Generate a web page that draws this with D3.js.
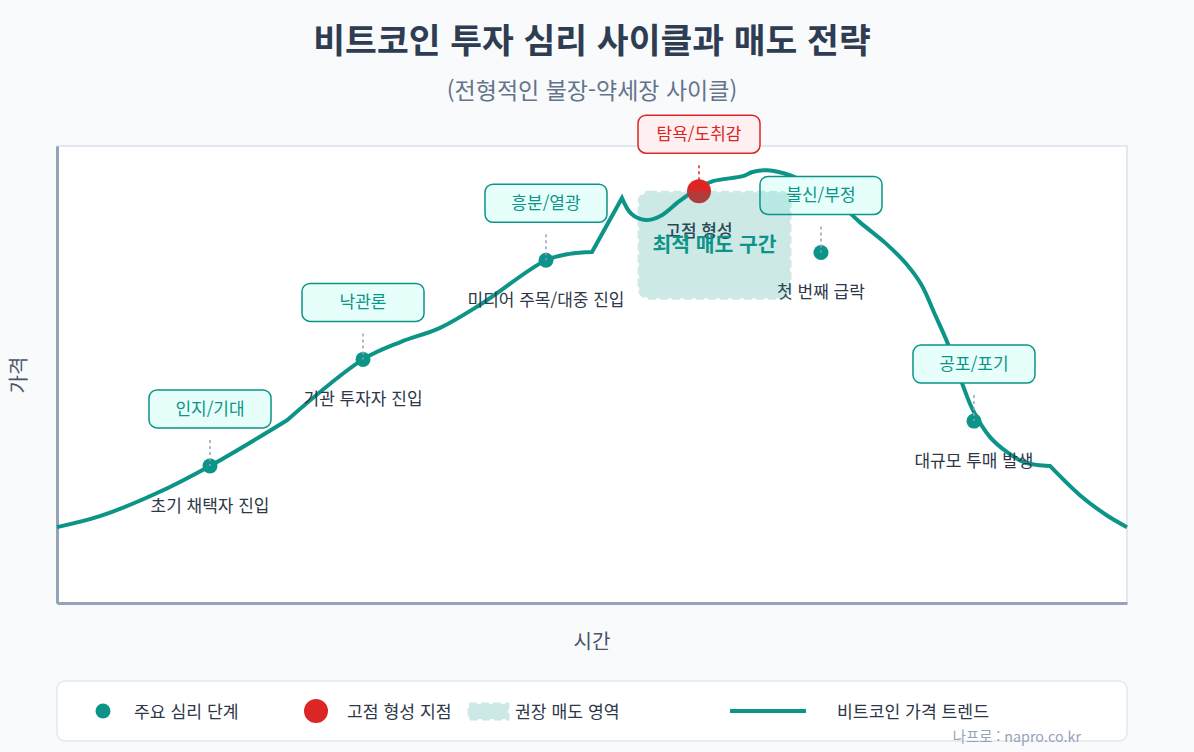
<!DOCTYPE html>
<html lang="ko">
<head>
<meta charset="utf-8">
<script src="https://cdn.jsdelivr.net/npm/d3@7"></script>
<style>
html, body { margin: 0; padding: 0; background: #f8fafc; }
svg { display: block; }
text { font-family: "Noto Sans CJK KR", "Noto Sans", sans-serif; }
</style>
</head>
<body>
<svg id="chart" width="1194" height="752"></svg>
<script>
// price trend, split where the line has a sharp corner
var trendSegments = [
  { time: [0, 4.0, 9.2, 14.3, 21.5], price: [16.6, 19.0, 23.9, 30.0, 40.0] },
  { time: [21.5, 28.6, 32.1, 35.8, 39.5, 45.7, 47.9, 50.0], price: [40.0, 53.3, 57.1, 60.2, 65.2, 75.0, 76.4, 76.8] },
  { time: [50.0, 52.8], price: [76.8, 88.6] },
  { time: [52.8, 53.7, 55.0, 56.4, 58.2, 60.0, 61.3, 64.1, 65.0, 66.4, 68.5, 70.4, 72.2, 75.0, 77.4, 79.3, 80.8, 82.0, 83.3, 84.6, 85.6, 87.2, 88.8, 90.3, 91.6, 92.8],
    price: [88.6, 85.1, 83.8, 84.7, 88.0, 90.8, 92.3, 93.4, 94.3, 94.7, 93.6, 91.5, 89.3, 83.4, 78.8, 74.4, 69.6, 63.4, 56.5, 48.0, 42.2, 36.3, 33.0, 30.9, 30.2, 30.0] },
  { time: [92.8, 95.6, 98.1, 100], price: [30.0, 23.6, 19.2, 16.6] }
];

// psychology stages
var stageNames = ["인지/기대", "낙관론", "흥분/열광", "탐욕/도취감", "불신/부정", "공포/포기"];
var stageNotes = ["초기 채택자 진입", "기관 투자자 진입", "미디어 주목/대중 진입", "고점 형성", "첫 번째 급락", "대규모 투매 발생"];
var stageTime = [14.3, 28.6, 45.7, 60.0, 71.4, 85.7];
var stagePrice = [30.0, 53.3, 75.0, 90.1, 76.7, 39.8];
var peakIndex = 3;

// recommended sell zone
var zoneTime = [54.4, 68.5];
var zonePrice = [66.7, 89.9];

var teal = "#0d9488";
var red = "#dc2626";
var dark = "#2d3748";

var svg = d3.select("#chart");
var x = d3.scaleLinear().domain([0, 100]).range([57, 1127]);
var y = d3.scaleLinear().domain([0, 100]).range([603, 146]);

// titles
svg.append("text").attr("x", 592).attr("y", 53).attr("text-anchor", "middle")
  .attr("font-size", 34.6).attr("font-weight", 700).attr("fill", "#2f3d52")
  .text("비트코인 투자 심리 사이클과 매도 전략");
svg.append("text").attr("x", 592).attr("y", 99).attr("text-anchor", "middle")
  .attr("font-size", 23).attr("fill", "#64748b")
  .text("(전형적인 불장-약세장 사이클)");

// plot area
svg.append("rect").attr("x", x(0)).attr("y", y(100)).attr("width", x(100) - x(0)).attr("height", y(0) - y(100))
  .attr("fill", "#fff").attr("stroke", "#e2e8f0").attr("stroke-width", 2);

var xAxis = svg.append("g").attr("transform", "translate(0," + y(0) + ")")
  .call(d3.axisBottom(x).tickValues([]).tickSize(0));
var yAxis = svg.append("g").attr("transform", "translate(" + x(0) + ",0)")
  .call(d3.axisLeft(y).tickValues([]).tickSize(0));
svg.selectAll(".domain").attr("stroke", "#94a3b8").attr("stroke-width", 3);

svg.append("text").attr("x", 592).attr("y", 649).attr("text-anchor", "middle")
  .attr("font-size", 20).attr("fill", "#4a5568").text("시간");
svg.append("text").attr("transform", "translate(26,375) rotate(-90)").attr("text-anchor", "middle")
  .attr("font-size", 20).attr("fill", "#4a5568").text("가격");

// trend line
var line = d3.line().x(function(d) { return x(d[0]); }).y(function(d) { return y(d[1]); })
  .curve(d3.curveCatmullRom.alpha(0.5));
var trendPath = trendSegments.map(function(seg, i) {
  var d = line(d3.zip(seg.time, seg.price));
  return i == 0 ? d : d.replace("M", "L");
}).join("");
svg.append("path").attr("d", trendPath).attr("fill", "none")
  .attr("stroke", teal).attr("stroke-width", 4).attr("stroke-linejoin", "miter");

// stages
stageNames.forEach(function(name, i) {
  var px = x(stageTime[i]);
  var py = y(stagePrice[i]);
  var isPeak = i == peakIndex;
  var color = isPeak ? red : teal;

  svg.append("circle").attr("cx", px).attr("cy", py).attr("r", isPeak ? 12 : 7.5).attr("fill", color);
  svg.append("line").attr("x1", px).attr("x2", px).attr("y1", py - 26).attr("y2", py)
    .attr("stroke", isPeak ? red : "#94a3b8").attr("stroke-width", 1.5).attr("stroke-dasharray", "3,3");

  svg.append("rect").attr("x", px - 61).attr("y", py - 76).attr("width", 122).attr("height", 38).attr("rx", 8)
    .attr("fill", isPeak ? "#fef0f0" : "#e6fffa").attr("stroke", color).attr("stroke-width", 1.5);
  svg.append("text").attr("x", px).attr("y", py - 51).attr("text-anchor", "middle")
    .attr("font-size", 17).attr("fill", color).text(name);

  svg.append("text").attr("x", px).attr("y", py + 46).attr("text-anchor", "middle")
    .attr("font-size", 17).attr("fill", dark).attr("font-weight", isPeak ? 500 : 400)
    .text(stageNotes[i]);
});

// sell zone goes over everything drawn so far
svg.append("rect").attr("x", x(zoneTime[0])).attr("y", y(zonePrice[1]))
  .attr("width", x(zoneTime[1]) - x(zoneTime[0])).attr("height", y(zonePrice[0]) - y(zonePrice[1]))
  .attr("rx", 10).attr("fill", teal).attr("stroke", teal).attr("stroke-width", 3)
  .attr("stroke-dasharray", "8,4").attr("opacity", 0.2);
svg.append("text").attr("x", (x(zoneTime[0]) + x(zoneTime[1])) / 2).attr("y", 252).attr("text-anchor", "middle")
  .attr("font-size", 20.4).attr("font-weight", 700).attr("fill", teal).text("최적 매도 구간");

// legend
svg.append("rect").attr("x", 57).attr("y", 681).attr("width", 1070).attr("height", 60).attr("rx", 8)
  .attr("fill", "#fff").attr("stroke", "#e2e8f0").attr("stroke-width", 1.5);
svg.append("circle").attr("cx", 103).attr("cy", 711).attr("r", 7.5).attr("fill", teal);
svg.append("circle").attr("cx", 316).attr("cy", 711).attr("r", 12).attr("fill", red);
svg.append("rect").attr("x", 469).attr("y", 704).attr("width", 39).attr("height", 15).attr("fill", teal)
  .attr("stroke", teal).attr("stroke-width", 3).attr("stroke-dasharray", "8,4").attr("opacity", 0.2);
svg.append("line").attr("x1", 730).attr("x2", 806).attr("y1", 711).attr("y2", 711).attr("stroke", teal).attr("stroke-width", 4);

var legendLabels = ["주요 심리 단계", "고점 형성 지점", "권장 매도 영역", "비트코인 가격 트렌드"];
var legendX = [134, 347, 515, 837];
legendLabels.forEach(function(label, i) {
  svg.append("text").attr("x", legendX[i]).attr("y", 718).attr("font-size", 17.2).attr("fill", dark).text(label);
});

svg.append("text").attr("x", 1081).attr("y", 742).attr("text-anchor", "end")
  .attr("font-size", 14.3).attr("fill", "#94a3b8").text("나프로 : napro.co.kr");
</script>
</body>
</html>
